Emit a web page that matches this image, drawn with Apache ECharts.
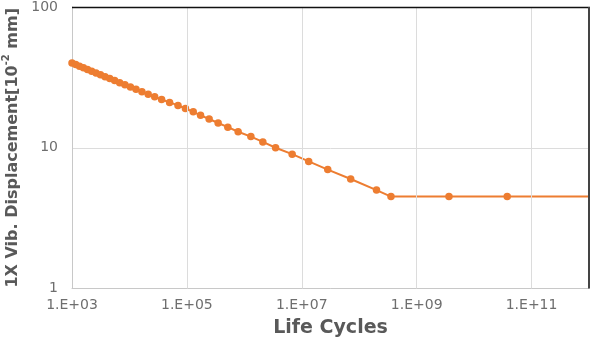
<!DOCTYPE html>
<html>
<head>
<meta charset="utf-8">
<script src="https://cdn.jsdelivr.net/npm/echarts@6/dist/echarts.min.js"></script>
<style>
html,body{margin:0;padding:0;background:#fff;}
#c{width:591px;height:342px;}
</style>
</head>
<body>
<div id="c"></div>
<script>
// Data
var lifeCycles = [
  1000, 1160, 1350, 1580, 1860, 2200, 2620, 3130, 3760, 4540,
  5520, 6760, 8340, 10400, 13000, 16500, 21200, 27500, 36300, 50000,
  70000, 94400, 129000, 173000, 244000, 350000, 516000, 780000, 1300000, 2100000,
  3500000, 6800000, 13200000, 28300000, 71000000, 200000000, 357000000, 3650000000, 37700000000, 1000000000000
];
var displacement = [
  40, 39, 38, 37, 36, 35, 34, 33, 32, 31,
  30, 29, 28, 27, 26, 25, 24, 23, 22, 21,
  20, 19, 18, 17, 16, 15, 14, 13, 12, 11,
  10, 9, 8, 7, 6, 5, 4.5, 4.5, 4.5, 4.5
];
var xTickValues = [1e3, 1e5, 1e7, 1e9, 1e11];
var xTickLabels = ['1.E+03', '1.E+05', '1.E+07', '1.E+09', '1.E+11'];
var yTickValues = [1, 10, 100];
var yTickLabels = ['1', '10', '100'];

var chart = echarts.init(document.getElementById('c'));
var seriesData = lifeCycles.map(function (x, i) { return [x, displacement[i]]; });
var lastIdx = seriesData.length - 1;

function findLabel(v, vals, labels) {
  for (var i = 0; i < vals.length; i++) {
    if (Math.abs(Math.log10(v) - Math.log10(vals[i])) < 1e-6) return labels[i];
  }
  return '';
}

var FONT = 'DejaVu Sans';
var ORANGE = '#ED7D31';

chart.setOption({
  animation: false,
  textStyle: {fontFamily: FONT},
  grid: {left: 72, right: 2, top: 7, bottom: 53.5, containLabel: false, outerBoundsMode: 'none'},
  xAxis: {
    type: 'log',
    logBase: 10,
    min: 1e3,
    max: 1e12,
    name: 'Life Cycles',
    nameLocation: 'middle',
    nameGap: 30,
    nameTextStyle: {fontFamily: FONT, fontSize: 19, fontWeight: 'bold', color: '#595959'},
    axisLine: {show: true, lineStyle: {color: '#c8c8c8', width: 1}},
    axisTick: {show: false},
    axisLabel: {
      margin: 10, fontFamily: FONT, fontSize: 14, color: '#6e6e6e',
      showMaxLabel: false,
      formatter: function (v) { return findLabel(v, xTickValues, xTickLabels); }
    },
    splitLine: {show: false}
  },
  yAxis: {
    type: 'log',
    logBase: 10,
    min: 1,
    max: 100,
    interval: 1,
    name: '{a|1X Vib. Displacement[10}{s|-2}{a| mm]}',
    nameLocation: 'middle',
    nameRotate: 90,
    nameGap: 48,
    nameTextStyle: {
      fontFamily: FONT, fontSize: 16, fontWeight: 'bold', color: '#595959',
      rich: {
        a: {fontFamily: FONT, fontSize: 16, fontWeight: 'bold', color: '#595959', lineHeight: 19, verticalAlign: 'bottom'},
        s: {fontFamily: FONT, fontSize: 10, fontWeight: 'bold', color: '#595959', lineHeight: 19, verticalAlign: 'top', padding: [0, 0, 8, 0]}
      }
    },
    axisLine: {show: true, lineStyle: {color: '#c8c8c8', width: 1}},
    axisTick: {show: false},
    axisLabel: {
      margin: 14, fontFamily: FONT, fontSize: 14, color: '#6e6e6e',
      formatter: function (v) { return findLabel(v, yTickValues, yTickLabels); }
    },
    splitLine: {show: true, lineStyle: {color: '#dcdcdc', width: 1}}
  },
  graphic: [
    {type: 'line', z: 100, shape: {x1: 72, y1: 7.5, x2: 590, y2: 7.5}, style: {stroke: '#111', lineWidth: 1.5}},
    {type: 'line', z: 100, shape: {x1: 589, y1: 7, x2: 589, y2: 288.5}, style: {stroke: '#444', lineWidth: 2}}
  ],
  series: [{
    type: 'line',
    data: [],
    z: 1,
    silent: true,
    markLine: {
      silent: true,
      symbol: ['none', 'none'],
      label: {show: false},
      lineStyle: {color: '#dcdcdc', width: 1, type: 'solid'},
      data: xTickValues.slice(1).map(function (v) { return {xAxis: v}; })
    }
  }, {
    type: 'line',
    z: 3,
    data: seriesData,
    symbol: 'circle',
    symbolSize: function (val, params) { return params.dataIndex === lastIdx ? 0 : 7.5; },
    lineStyle: {color: ORANGE, width: 2},
    itemStyle: {color: ORANGE},
    clip: false
  }]
});
</script>
</body>
</html>
